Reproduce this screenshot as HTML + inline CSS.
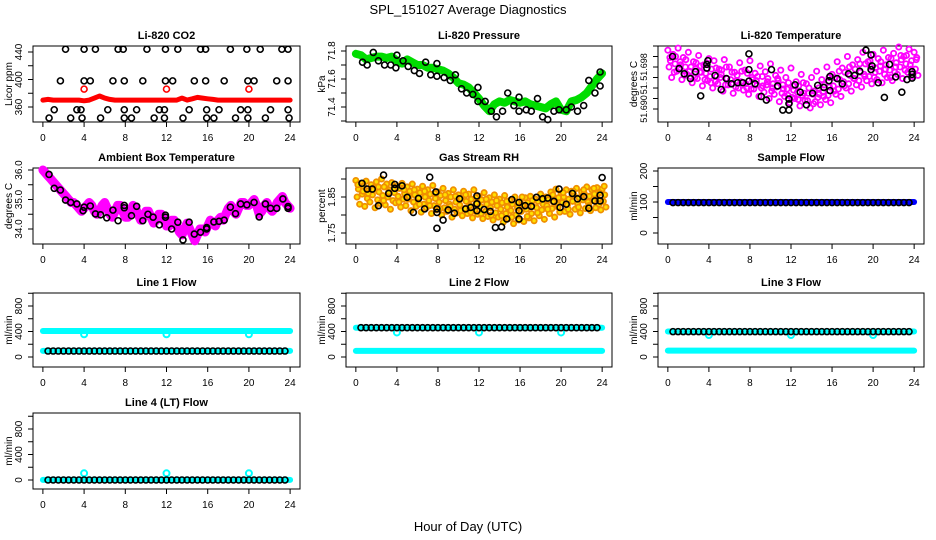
<!DOCTYPE html>
<html><head><meta charset="utf-8"><title>SPL_151027 Average Diagnostics</title>
<style>
html,body{margin:0;padding:0;background:#fff;}
svg{display:block;font-family:"Liberation Sans",sans-serif;}
</style></head>
<body>
<svg id="fig" xmlns="http://www.w3.org/2000/svg" width="936" height="540" viewBox="0 0 936 540">
<rect x="0" y="0" width="936" height="540" fill="#fff"/>
<text x="468" y="14" text-anchor="middle" font-size="13">SPL_151027  Average Diagnostics</text>
<text x="468" y="531" text-anchor="middle" font-size="13">Hour of Day (UTC)</text>
</svg>
<script>
// ---------- data ----------
const xTicks = [0,4,8,12,16,20,24];

// CO2
const co2RedVals = [370,371,370,370,370,370,370,370,369,370, 373,376,373,371,370,370,370,370,370,370, 370,370,370,370,370,370,370,373,370,372, 374,373,372,371,370,370,370,370,370,370, 370,370,370,370,370,370,370,370,370];
const co2RedOutT = [4,12,20];
const co2RedOutV = [386,386,386];
const co2BlackT = [2.2,4.0,5.1,7.3,7.8,10.1,11.9,13.1,15.3,15.8,18.2,19.8,21.1,23.2,23.8,
 1.7,4.0,4.6,6.8,7.9,9.7,11.9,12.6,14.7,15.8,17.6,19.9,20.5,22.7,23.8,
 1.1,3.3,3.7,6.3,7.9,9.1,11.3,11.8,14.2,15.9,17.1,19.2,19.9,22.1,23.8,
 0.6,2.7,3.8,5.6,7.9,8.6,10.8,11.8,13.6,15.9,16.6,18.7,19.9,21.6,23.9];
const co2BlackV = [444,444,444,444,444,444,444,444,444,444,444,444,444,444,444,
 398,398,398,398,398,398,398,398,398,398,398,398,398,398,398,
 356,356,356,356,356,356,356,356,356,356,356,356,356,356,356,
 344,344,344,344,344,344,344,344,344,344,344,344,344,344,344];

// Pressure
const presGreen = [71.78,71.77,71.74,71.75,71.76,71.76,71.75,71.76,71.73,71.71, 71.74,71.72,71.70,71.70,71.68,71.68,71.67,71.66,71.64,71.61, 71.57,71.56,71.54,71.50,71.46,71.41,71.37,71.42,71.44,71.43, 71.45,71.44,71.43,71.44,71.42,71.41,71.40,71.39,71.42,71.44, 71.38,71.37,71.44,71.45,71.47,71.50,71.55,71.60,71.64];
const presBlackT = [0.65,1.1,1.7,2.2,2.8,3.4,3.9,4.0,4.6,5.1,5.7,6.2,6.8,7.3,7.9,7.9,8.6,9.2,9.7,10.3,10.8,11.4,11.9,11.9,12.6,13.2,13.7,14.3,14.8,15.4,15.9,15.9,16.6,17.1,17.7,18.2,18.7,19.3,19.8,20.5,21.0,21.6,22.2,22.7,23.3,23.8,23.8];
const presBlackV = [71.72,71.70,71.79,71.73,71.70,71.70,71.68,71.77,71.73,71.69,71.66,71.64,71.72,71.63,71.62,71.71,71.61,71.59,71.63,71.53,71.50,71.49,71.44,71.54,71.44,71.37,71.33,71.37,71.50,71.41,71.37,71.47,71.38,71.37,71.46,71.33,71.31,71.37,71.38,71.38,71.40,71.37,71.41,71.59,71.50,71.65,71.55];

// Li-820 temperature (units of 0.0001 above 51.69)
const tempMagA = [112,104,116,98,108,90,102,84,96,92, 76,94,80,70,88,74,92,68,82,71, 86,64,74,60,78,52,66,48,60,72, 56,80,66,90,78,100,84,94,108,90, 104,96,112,98,106,118,100,114,108];
const tempMagB = [92,100,84,94,80,88,70,86,76,62, 74,58,70,64,50,68,56,62,44,58, 48,54,38,50,36,44,30,40,34,28, 46,42,60,56,70,64,76,70,86,80, 78,90,84,96,88,94,102,92,98];
const tempMagC = [80,70,78,64,72,60,70,56,62,52, 60,46,56,42,52,48,38,54,40,46, 34,42,30,38,22,32,26,16,28,22, 32,26,44,38,52,48,58,54,66,62, 60,72,66,74,70,80,74,84,76];
const tempMagD = [60,72,56,66,50,58,44,54,40,48, 34,46,30,40,36,28,38,24,32,20, 28,14,24,12,20,6,16,2,14,8, 18,12,28,24,40,34,46,42,54,48, 56,50,60,54,66,58,70,62,64];
const tempMagE = [98,86,90,80,62,76,82,68,50,78, 66,80,48,54,72,40,60,46,62,52, 40,58,46,26,44,18,50,30,10,40, 24,60,34,72,44,80,58,86,62,92, 70,82,76,60,80,102,86,76,94];
const tempBlackT = [0.46,1.1,1.6,2.2,2.7,3.2,3.8,3.9,3.8,4.6,5.2,5.7,6.2,6.8,7.3,7.9,7.9,7.9,8.5,9.1,9.6,10.1,10.7,11.2,11.8,11.8,11.8,12.4,12.9,13.5,14.1,14.6,15.2,15.7,15.8,15.8,16.5,17.0,17.6,18.2,18.7,19.3,19.8,19.8,19.9,20.5,21.1,21.6,22.2,22.8,23.3,23.8,23.8,23.8];
const tempBlackV = [100,77,67,58,71,25,85,92,78,64,37,58,48,50,50,53,75,105,48,24,17,75,44,-2,19,10,-2,46,32,8,30,45,41,54,35,62,58,48,67,64,72,112,103,75,82,50,22,85,61,32,56,71,66,59];

// Ambient box temperature (0.25 h steps)
const ambMag = [36.0,35.9,35.8,35.7,35.6,35.5,35.4,35.3,35.2,35.1,35.0,34.9,34.9,34.8,34.7,34.6,34.7,34.8,34.9,34.8,34.6,34.5,34.6,34.8,34.9,34.7,34.5,34.4,34.6,34.8,34.8,34.6,34.4,34.4,34.6,34.8,34.7,34.5,34.3,34.4,34.6,34.6,34.4,34.2,34.3,34.5,34.5,34.3,34.1,34.1,34.3,34.3,34.1,33.9,33.8,34.0,34.2,34.0,33.8,33.6,33.8,34.0,34.0,33.9,34.1,34.3,34.2,34.1,34.3,34.4,34.3,34.5,34.7,34.8,34.6,34.5,34.7,34.9,34.9,34.8,34.8,34.9,35.0,34.8,34.5,34.6,34.8,34.9,34.7,34.6,34.7,34.9,35.0,35.1,34.9,34.8,34.7];
const ambBlackT = [0.6,1.1,1.7,2.2,2.7,3.3,3.9,4.0,4.6,5.1,5.6,6.2,6.8,7.3,7.9,7.9,8.6,9.1,9.7,10.2,10.7,11.3,11.9,11.9,12.5,13.1,13.6,14.2,14.7,15.3,15.9,15.9,16.6,17.1,17.6,18.2,18.7,19.2,19.8,20.5,21.0,21.6,22.1,22.7,23.3,23.8,23.8];
const ambBlackV = [35.85,35.38,35.32,34.98,34.90,34.85,34.62,34.74,34.78,34.51,34.48,34.38,34.64,34.28,34.80,34.72,34.45,34.77,34.28,34.50,34.40,34.14,34.47,34.40,34.00,34.23,33.63,34.23,33.83,33.89,34.05,34.00,34.24,34.26,34.30,34.74,34.52,34.85,34.82,34.90,34.41,34.85,34.70,34.70,35.02,34.76,34.70];

// Gas stream RH (units of 0.001 above 1.80)
const rhA = [96,88,94,84,92,100,86,90,80,88, 78,86,72,80,70,82,64,74,60,70, 56,66,58,70,52,62,48,56,44,54, 40,50,36,48,52,44,58,50,64,72, 60,70,66,74,64,78,70,76,72];
const rhB = [72,80,68,76,64,78,70,62,74,60, 66,56,62,50,58,46,54,40,50,36, 46,38,44,32,42,30,36,26,34,22, 30,20,28,34,24,38,30,42,36,48, 50,44,56,48,60,52,58,62,56];
const rhC = [50,58,46,56,42,54,50,40,52,44, 44,36,48,30,40,26,36,20,30,16, 28,18,26,12,24,10,20,6,16,4, 12,0,10,16,4,20,14,26,18,30, 34,28,38,30,42,36,40,44,38];
const rhD = [30,24,36,20,32,28,16,34,22,26, 12,24,8,20,4,14,0,10,-6,6, -2,4,-8,2,-10,-4,-14,-6,-20,-10, -24,-14,-18,-8,-16,-2,-12,4,-6,8, 10,2,16,6,18,12,20,14,22];
const rhE = [84,66,60,70,78,40,64,74,36,70, 52,70,30,66,26,60,18,56,24,52, 12,56,8,48,4,44,0,40,-2,38, -6,34,50,-4,40,6,44,16,56,22, 62,16,66,22,70,26,74,30,80];
const rhBlackT = [0.6,1.1,1.6,2.2,2.7,3.2,3.8,3.8,4.5,5.0,5.6,6.1,6.7,7.2,7.8,7.9,7.9,7.9,8.5,9.0,9.6,10.1,10.7,11.2,11.8,11.8,11.8,12.5,13.1,13.6,14.2,14.7,15.2,15.9,15.9,15.9,16.5,17.1,17.6,18.2,18.7,19.3,19.8,19.9,20.5,21.1,21.6,22.2,22.7,23.3,23.8,23.8,24.0];
const rhBlackV = [1.888,1.872,1.872,1.826,1.911,1.860,1.885,1.874,1.881,1.849,1.807,1.846,1.817,1.905,1.864,1.817,1.807,1.763,1.786,1.814,1.805,1.845,1.817,1.821,1.853,1.831,1.812,1.815,1.810,1.765,1.767,1.789,1.843,1.835,1.812,1.789,1.826,1.824,1.849,1.845,1.847,1.838,1.872,1.821,1.830,1.860,1.845,1.851,1.819,1.839,1.855,1.839,1.904];

// Flows (cyan at 0.5 h steps, black at 0.5..23.5)
const sampleBlue = [100,100,100,100,100,100,100,100,100,100,100,100,100,100,100,100,100,100,100,100,100,100,100,100,100,100,100,100,100,100,100,100,100,100,100,100,100,100,100,100,100,100,100,100,100,100,100,100,100];
const sampleBlack = [98,98,98,98,98,98,98,98,98,98,98,98,98,98,98,98,98,98,98,98,98,98,98,98,98,98,98,98,98,98,98,98,98,98,98,98,98,98,98,98,98,98,98,98,98,98,98];
const l1CyanHi = [408,408,408,408,408,408,408,408,408,408,408,408,408,408,408,408,408,408,408,408,408,408,408,408,408,408,408,408,408,408,408,408,408,408,408,408,408,408,408,408,408,408,408,408,408,408,408,408,408];
const l1CyanLo = [96,96,96,96,96,96,96,96,96,96,96,96,96,96,96,96,96,96,96,96,96,96,96,96,96,96,96,96,96,96,96,96,96,96,96,96,96,96,96,96,96,96,96,96,96,96,96,96,96];
const l1Black = [94,94,94,94,94,94,94,94,94,94,94,94,94,94,94,94,94,94,94,94,94,94,94,94,94,94,94,94,94,94,94,94,94,94,94,94,94,94,94,94,94,94,94,94,94,94,94];
const l1DipV = [356,356,356];
const l2CyanHi = [460,460,460,460,460,460,460,460,460,460,460,460,460,460,460,460,460,460,460,460,460,460,460,460,460,460,460,460,460,460,460,460,460,460,460,460,460,460,460,460,460,460,460,460,460,460,460,460,460];
const l2CyanLo = [96,96,96,96,96,96,96,96,96,96,96,96,96,96,96,96,96,96,96,96,96,96,96,96,96,96,96,96,96,96,96,96,96,96,96,96,96,96,96,96,96,96,96,96,96,96,96,96,96];
const l2Black = [460,460,460,460,460,460,460,460,460,460,460,460,460,460,460,460,460,460,460,460,460,460,460,460,460,460,460,460,460,460,460,460,460,460,460,460,460,460,460,460,460,460,460,460,460,460,460];
const l2DipV = [385,385,385];
const l3CyanHi = [400,400,400,400,400,400,400,400,400,400,400,400,400,400,400,400,400,400,400,400,400,400,400,400,400,400,400,400,400,400,400,400,400,400,400,400,400,400,400,400,400,400,400,400,400,400,400,400,400];
const l3CyanLo = [100,100,100,100,100,100,100,100,100,100,100,100,100,100,100,100,100,100,100,100,100,100,100,100,100,100,100,100,100,100,100,100,100,100,100,100,100,100,100,100,100,100,100,100,100,100,100,100,100];
const l3Black = [398,398,398,398,398,398,398,398,398,398,398,398,398,398,398,398,398,398,398,398,398,398,398,398,398,398,398,398,398,398,398,398,398,398,398,398,398,398,398,398,398,398,398,398,398,398,398];
const l3DipV = [345,345,345];
const l4Cyan = [2,2,2,2,2,2,2,2,2,2,2,2,2,2,2,2,2,2,2,2,2,2,2,2,2,2,2,2,2,2,2,2,2,2,2,2,2,2,2,2,2,2,2,2,2,2,2,2,2];
const l4Black = [0,0,0,0,0,0,0,0,0,0,0,0,0,0,0,0,0,0,0,0,0,0,0,0,0,0,0,0,0,0,0,0,0,0,0,0,0,0,0,0,0,0,0,0,0,0,0];
const l4SpikeV = [105,105,105];
const dipT = [4,12,20];

// ---------- drawing ----------
const NS = 'http://www.w3.org/2000/svg';
const svg = document.getElementById('fig');
function mk(tag, attrs, name, parent){
  const el = document.createElementNS(NS, tag);
  for (const k in attrs) el.setAttribute(k, attrs[k]);
  
  
  (parent || svg).appendChild(el);
  return el;
}
const colsX = [[33,300],[346,612],[658,924]];
const rowsY = [[46,122],[168,244],[293,367],[413,489]];

function panel(col,row,title,ylab,v1,p1,v2,p2,ticks,labels,labelText,key,lfs){
  const [l,r] = colsX[col], [t,b] = rowsY[row];
  const g = mk('g', {}, key + '-panel');
  const x = h => l + (h + 0.96) / 25.92 * (r - l);
  const y = v => p1 + (v - v1) * (p2 - p1) / (v2 - v1);
  mk('rect', {x:l, y:t, width:r-l, height:b-t, fill:'none', stroke:'#000', 'stroke-width':1}, key + '-plot-box', g);
  mk('text', {x:(l+r)/2, y:t-7, 'text-anchor':'middle', 'font-size':11, 'font-weight':'bold'}, key + '-title', g).textContent = title;
  const yl = mk('text', {x:l-21, y:(t+b)/2, 'text-anchor':'middle', 'font-size':10, transform:`rotate(-90 ${l-21} ${(t+b)/2})`}, key + '-y-axis-title', g);
  yl.textContent = ylab;
  mk('line', {x1:l, x2:l, y1:y(ticks[0]), y2:y(ticks[ticks.length-1]), stroke:'#000'}, key + '-y-axis-line', g);
  ticks.forEach(v => {
    mk('line', {x1:l-5, x2:l, y1:y(v), y2:y(v), stroke:'#000'}, key + '-y-tick', g);
  });
  labels.forEach((v,i) => {
    const tx = mk('text', {x:l-11, y:y(v), 'text-anchor':'middle', 'font-size':lfs||10, transform:`rotate(-90 ${l-11} ${y(v)})`}, key + '-y-tick-label', g);
    tx.textContent = labelText[i];
  });
  xTicks.forEach(h => {
    mk('line', {x1:x(h), x2:x(h), y1:b, y2:b+5, stroke:'#000'}, key + '-x-tick', g);
    const tx = mk('text', {x:x(h), y:b+19, 'text-anchor':'middle', 'font-size':10}, key + '-x-tick-label', g);
    tx.textContent = h;
  });
  const marks = mk('g', {}, key + '-marks', g);
  return {x, y, g:marks};
}
function pts(P, ts, vs, color, name, r, sw, fill){
  vs.forEach((v,i) => {
    mk('circle', {cx:P.x(ts[i]), cy:P.y(v), r:r||3, fill:fill||'none', stroke:color, 'stroke-width':sw||1.6}, name, P.g);
  });
}
function band(P, ts, vs, color, name, w){
  const d = vs.map((v,i) => (i?'L':'M') + P.x(ts[i]).toFixed(1) + ' ' + P.y(v).toFixed(1)).join(' ');
  mk('path', {d, fill:'none', stroke:color, 'stroke-width':w, 'stroke-linecap':'round', 'stroke-linejoin':'round'}, name, P.g);
}
const tHalf = n => Array.from({length:n}, (_, i) => i * 0.5);
const tQuarter = n => Array.from({length:n}, (_, i) => i * 0.25);
const tBlack = n => Array.from({length:n}, (_, i) => 0.5 + i * 0.5);

// Li-820 CO2
let P = panel(0,0,'Li-820 CO2','Licor ppm',440,52,360,107,[360,380,400,420,440],[360,400,440],['360','400','440'],'co2');
band(P, tHalf(co2RedVals.length), co2RedVals, '#ff0000', 'co2-red-series', 5);
pts(P, co2RedOutT, co2RedOutV, '#ff0000', 'co2-red-outlier');
pts(P, co2BlackT, co2BlackV, '#000', 'co2-black-point');

// Pressure
P = panel(1,0,'Li-820 Pressure','kPa',71.8,51,71.4,107,[71.3,71.4,71.5,71.6,71.7,71.8],[71.4,71.6,71.8],['71.4','71.6','71.8'],'pressure');
band(P, tHalf(presGreen.length), presGreen, '#00dd00', 'pressure-green-series', 8);
pts(P, presBlackT, presBlackV, '#000', 'pressure-black-point');

// Li-820 Temperature
P = panel(2,0,'Li-820 Temperature','degrees C',51.698,67,51.690,109,[51.690,51.692,51.694,51.696,51.698,51.700,51.702],[51.690,51.694,51.698],['51.690','51.','51.698'],'temperature',9);
const tempConv = a => a.map(v => 51.69 + v/10000);
pts(P, tHalf(49), tempConv(tempMagA), '#ff00ff', 'temperature-magenta-point', 2.6, 1.8);
pts(P, tHalf(49).map(h => h + 0.25), tempConv(tempMagB), '#ff00ff', 'temperature-magenta-point', 2.6, 1.8);
pts(P, tHalf(49).map(h => h + 0.12), tempConv(tempMagC), '#ff00ff', 'temperature-magenta-point', 2.6, 1.8);
pts(P, tHalf(49).map(h => h + 0.37), tempConv(tempMagD), '#ff00ff', 'temperature-magenta-point', 2.6, 1.8);
pts(P, tHalf(49).map(h => h + 0.2), tempConv(tempMagE), '#ff00ff', 'temperature-magenta-point', 2.6, 1.8);
pts(P, tempBlackT, tempConv(tempBlackV), '#000', 'temperature-black-point');

// Ambient Box Temperature
P = panel(0,1,'Ambient Box Temperature','degrees C',36,170,34,229,[34,34.5,35,35.5,36],[34,35,36],['34.0','35.0','36.0'],'ambient');
band(P, tQuarter(ambMag.length), ambMag, '#ff00ff', 'ambient-magenta-series', 9);
pts(P, ambBlackT, ambBlackV, '#000', 'ambient-black-point');

// Gas Stream RH
P = panel(1,1,'Gas Stream RH','percent',1.85,197,1.75,233,[1.75,1.80,1.85,1.90],[1.75,1.85],['1.75','1.85'],'rh');
const rhConv = a => a.map(v => 1.8 + v/1000);
pts(P, tHalf(49), rhConv(rhA), '#f09000', 'rh-orange-point', 2.6, 1.8, '#ffe000');
pts(P, tHalf(49).map(h => h + 0.25), rhConv(rhB), '#f09000', 'rh-orange-point', 2.6, 1.8, '#ffe000');
pts(P, tHalf(49).map(h => h + 0.12), rhConv(rhC), '#f09000', 'rh-orange-point', 2.6, 1.8, '#ffe000');
pts(P, tHalf(49).map(h => h + 0.37), rhConv(rhD), '#f09000', 'rh-orange-point', 2.6, 1.8, '#ffe000');
pts(P, tHalf(49).map(h => h + 0.2), rhConv(rhE), '#f09000', 'rh-orange-point', 2.6, 1.8, '#ffe000');
pts(P, rhBlackT, rhBlackV, '#000', 'rh-black-point');

// Sample Flow
P = panel(2,1,'Sample Flow','ml/min',200,171,0,233,[0,50,100,150,200],[0,100,200],['0','100','200'],'sample-flow');
band(P, tHalf(sampleBlue.length), sampleBlue, '#0000ff', 'sample-flow-blue-series', 6);
pts(P, tBlack(sampleBlack.length), sampleBlack, '#000', 'sample-flow-black-point');

// Line flows
const flowTicks = [0,200,400,600,800,1000];
P = panel(0,2,'Line 1 Flow','ml/min',800,306,0,357,flowTicks,[0,400,800],['0','400','800'],'line1-flow');
band(P, tHalf(49), l1CyanHi, '#00ffff', 'line1-cyan-high-series', 6);
band(P, tHalf(49), l1CyanLo, '#00ffff', 'line1-cyan-low-series', 6);
pts(P, dipT, l1DipV, '#00ffff', 'line1-cyan-dip', 3, 2);
pts(P, tBlack(47), l1Black, '#000', 'line1-black-point');

P = panel(1,2,'Line 2 Flow','ml/min',800,306,0,357,flowTicks,[0,400,800],['0','400','800'],'line2-flow');
band(P, tHalf(49), l2CyanHi, '#00ffff', 'line2-cyan-high-series', 6);
band(P, tHalf(49), l2CyanLo, '#00ffff', 'line2-cyan-low-series', 6);
pts(P, dipT, l2DipV, '#00ffff', 'line2-cyan-dip', 3, 2);
pts(P, tBlack(47), l2Black, '#000', 'line2-black-point');

P = panel(2,2,'Line 3 Flow','ml/min',800,306,0,357,flowTicks,[0,400,800],['0','400','800'],'line3-flow');
band(P, tHalf(49), l3CyanHi, '#00ffff', 'line3-cyan-high-series', 6);
band(P, tHalf(49), l3CyanLo, '#00ffff', 'line3-cyan-low-series', 6);
pts(P, dipT, l3DipV, '#00ffff', 'line3-cyan-dip', 3, 2);
pts(P, tBlack(47), l3Black, '#000', 'line3-black-point');

P = panel(0,3,'Line 4 (LT) Flow','ml/min',800,429,0,480,flowTicks,[0,400,800],['0','400','800'],'line4-flow');
band(P, tHalf(49), l4Cyan, '#00ffff', 'line4-cyan-series', 6);
pts(P, dipT, l4SpikeV, '#00ffff', 'line4-cyan-spike', 3, 2);
pts(P, tBlack(47), l4Black, '#000', 'line4-black-point');
</script>
</body></html>
